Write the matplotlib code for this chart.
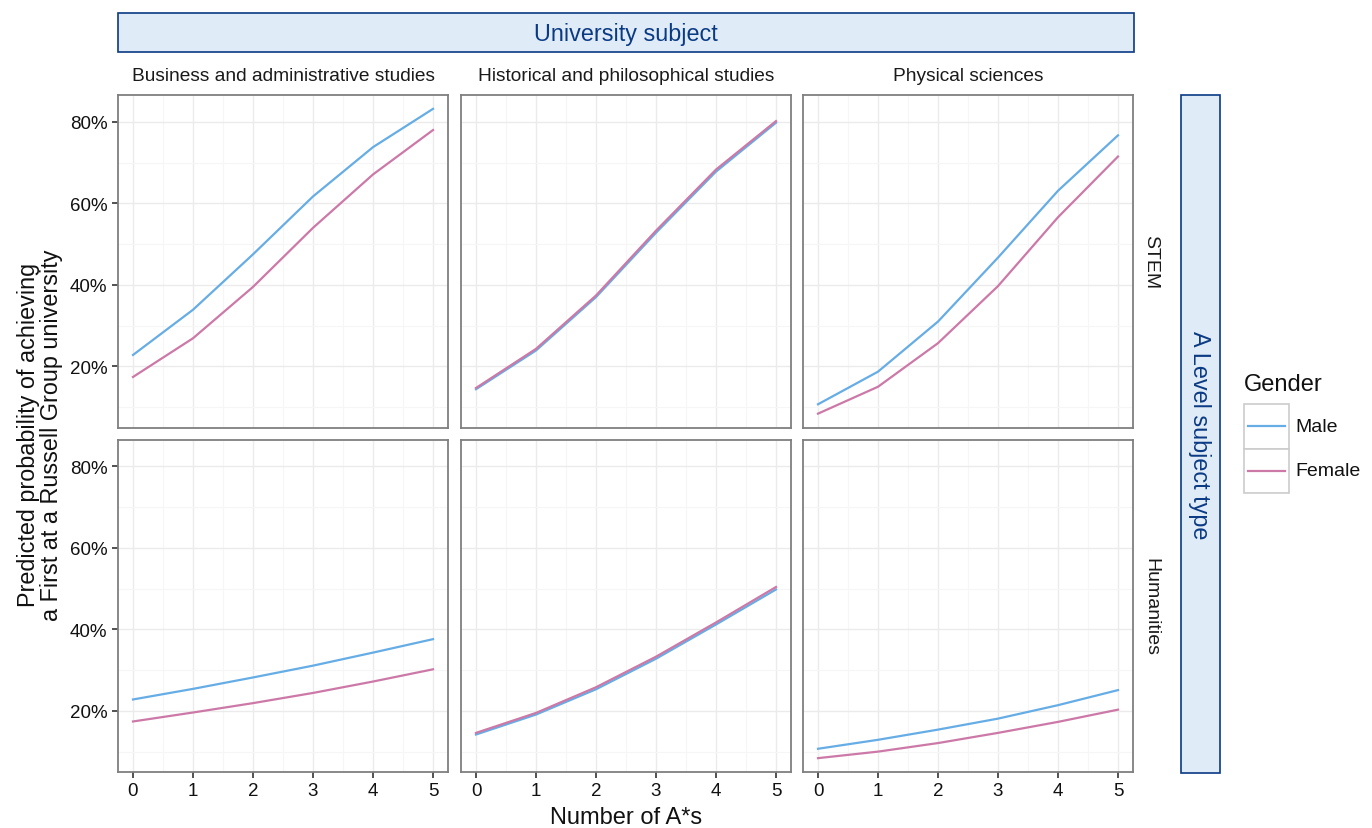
import matplotlib
matplotlib.use("Agg")
import matplotlib.pyplot as plt
from matplotlib.patches import Rectangle
from matplotlib.lines import Line2D
from matplotlib.ticker import FixedLocator, FuncFormatter

plt.rcParams['font.family'] = ['Liberation Sans', 'DejaVu Sans']

# ---- data ----
n_astars = [0, 1, 2, 3, 4, 5]
uni_subjects = ["Business and administrative studies",
                "Historical and philosophical studies",
                "Physical sciences"]
alevel_types = ["STEM", "Humanities"]
genders = ["Male", "Female"]

stem_business_male = [22.8, 33.9, 47.5, 61.7, 73.8, 83.2]
stem_business_female = [17.4, 26.9, 39.5, 54.0, 67.1, 78.0]
stem_history_male = [14.4, 23.9, 37.0, 52.8, 67.8, 79.8]
stem_history_female = [14.7, 24.3, 37.4, 53.3, 68.3, 80.2]
stem_physics_male = [10.7, 18.7, 31.0, 46.7, 63.1, 76.7]
stem_physics_female = [8.4, 15.0, 25.7, 39.7, 56.6, 71.5]

hum_business_male = [22.8, 25.4, 28.2, 31.1, 34.3, 37.6]
hum_business_female = [17.4, 19.6, 21.9, 24.4, 27.2, 30.2]
hum_history_male = [14.2, 19.1, 25.3, 32.8, 41.2, 49.8]
hum_history_female = [14.6, 19.5, 25.8, 33.3, 41.7, 50.4]
hum_physics_male = [10.7, 12.9, 15.4, 18.1, 21.4, 25.1]
hum_physics_female = [8.4, 10.0, 12.1, 14.6, 17.3, 20.3]

panel_data = {
    ("STEM", uni_subjects[0]): (stem_business_male, stem_business_female),
    ("STEM", uni_subjects[1]): (stem_history_male, stem_history_female),
    ("STEM", uni_subjects[2]): (stem_physics_male, stem_physics_female),
    ("Humanities", uni_subjects[0]): (hum_business_male, hum_business_female),
    ("Humanities", uni_subjects[1]): (hum_history_male, hum_history_female),
    ("Humanities", uni_subjects[2]): (hum_physics_male, hum_physics_female),
}

y_ticks = [20, 40, 60, 80]
y_minor = [10, 30, 50, 70]
x_minor = [0.5, 1.5, 2.5, 3.5, 4.5]

colors = {"Male": "#66ADE5", "Female": "#CC79A7"}
strip_fill = "#DFEBF7"
strip_edge = "#0B3A84"
strip_text = "#0B3A84"

W, H = 1372, 829
fig = plt.figure(figsize=(W / 100, H / 100), dpi=100)

def fx(px):
    return px / W

def fy(py):
    return 1 - py / H

col_left = [118, 461, 803]
col_w = 330
row_top = [96, 440.5]
row_h = 332.5

ylim = (5.0, 86.6)
xlim = (-0.25, 5.25)

for r, atype in enumerate(alevel_types):
    for c, subj in enumerate(uni_subjects):
        ax = fig.add_axes([fx(col_left[c]), fy(row_top[r] + row_h),
                           fx(col_w), row_h / H])
        male, female = panel_data[(atype, subj)]
        ax.plot(n_astars, male, color=colors["Male"], lw=1.6, zorder=3,
                solid_joinstyle='round')
        ax.plot(n_astars, female, color=colors["Female"], lw=1.6, zorder=3,
                solid_joinstyle='round')
        ax.set_xlim(*xlim)
        ax.set_ylim(*ylim)
        ax.xaxis.set_major_locator(FixedLocator(n_astars))
        ax.xaxis.set_minor_locator(FixedLocator(x_minor))
        ax.yaxis.set_major_locator(FixedLocator(y_ticks))
        ax.yaxis.set_minor_locator(FixedLocator(y_minor))
        ax.yaxis.set_major_formatter(FuncFormatter(lambda v, p: f"{int(v)}%"))
        ax.grid(which='major', color='#EBEBEB', lw=1.0, zorder=0)
        ax.grid(which='minor', color='#F6F6F6', lw=0.8, zorder=0)
        ax.set_axisbelow(True)
        for s in ax.spines.values():
            s.set_color('#7F7F7F')
            s.set_linewidth(1.3)
        ax.tick_params(which='minor', length=0)
        ax.tick_params(which='major', length=4, width=1.2, color='#333333',
                       labelsize=13.5, labelcolor='#111111', pad=3.5)
        if c != 0:
            ax.tick_params(axis='y', which='both', left=False, labelleft=False)
        if r != 1:
            ax.tick_params(axis='x', which='both', bottom=False, labelbottom=False)
        if r == 0:
            fig.text(fx(col_left[c] + col_w / 2), fy(76.5), subj,
                     ha='center', va='center', fontsize=13.8, color='#1A1A1A')
    fig.text(fx(1151), fy(row_top[r] + row_h / 2), atype, rotation=-90,
             ha='center', va='center', fontsize=14, color='#1A1A1A')

# top strip
fig.patches.append(Rectangle((fx(118), fy(52.5)), fx(1134 - 118), (52.5 - 14) / H,
                             transform=fig.transFigure, facecolor=strip_fill,
                             edgecolor=strip_edge, lw=1.2))
fig.text(fx(626), fy(34), "University subject", ha='center', va='center',
         fontsize=16.8, color=strip_text)

# right strip
fig.patches.append(Rectangle((fx(1180.5), fy(773.5)), fx(1219.5 - 1180.5), (773.5 - 96) / H,
                             transform=fig.transFigure, facecolor=strip_fill,
                             edgecolor=strip_edge, lw=1.2))
fig.text(fx(1200), fy(435), "A Level subject type", rotation=-90,
         ha='center', va='center', fontsize=16.8, color=strip_text)

# axis labels
fig.text(fx(626), fy(818.5), "Number of A*s", ha='center', va='center',
         fontsize=17, color='#111111')
fig.text(fx(40), fy(435),
         "Predicted probability of achieving\na First at a Russell Group university",
         rotation=90, ha='center', va='center', fontsize=16.8, color='#111111',
         linespacing=0.95)

# legend
fig.text(fx(1244), fy(385), "Gender", ha='left', va='center', fontsize=17,
         color='#111111')
key_top = 405
key_h = 44.5
for i, g in enumerate(genders):
    top = key_top + i * key_h
    fig.patches.append(Rectangle((fx(1244), fy(top + key_h)), fx(45), key_h / H,
                                 transform=fig.transFigure, facecolor='white',
                                 edgecolor='#CCCCCC', lw=1.2))
    fig.lines.append(Line2D([fx(1248), fx(1285)], [fy(top + key_h / 2)] * 2,
                            transform=fig.transFigure, color=colors[g], lw=1.6))
    fig.text(fx(1295), fy(top + key_h / 2), g, ha='left', va='center',
             fontsize=14, color='#111111')

fig.savefig("out.png", dpi=100)
